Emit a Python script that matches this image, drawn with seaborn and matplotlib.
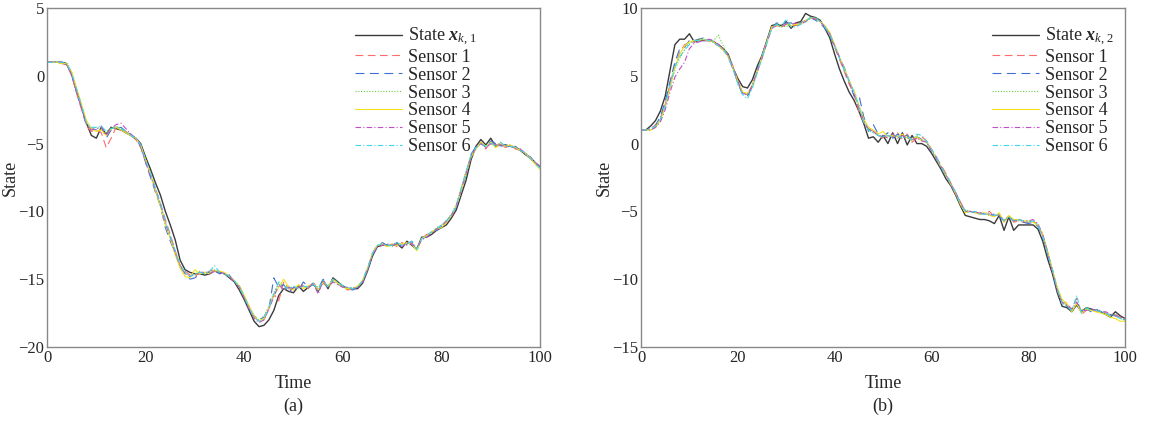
import numpy as np
import pandas as pd
import matplotlib
matplotlib.use("Agg")
import matplotlib.pyplot as plt
import seaborn as sns

time = np.arange(0, 101)

state_x1 = [
    1.0, 1.0, 1.0, 1.0, 0.9, 0.1, -1.2, -2.3, -3.5, -4.4,
    -4.6, -3.8, -4.3, -3.8, -3.9, -4.0, -4.2, -4.4, -4.6, -5.0,
    -6.0, -6.9, -7.9, -8.8, -10.0, -11.0, -12.1, -13.6, -14.3, -14.5,
    -14.6, -14.6, -14.7, -14.6, -14.4, -14.5, -14.6, -14.9, -15.2, -15.8,
    -16.5, -17.3, -18.1, -18.5, -18.4, -18.0, -17.3, -16.2, -15.7, -15.9,
    -16.0, -15.5, -15.9, -15.6, -15.3, -15.9, -15.1, -15.7, -14.9, -15.2,
    -15.5, -15.7, -15.7, -15.7, -15.3, -14.4, -13.3, -12.6, -12.5, -12.5,
    -12.5, -12.4, -12.7, -12.2, -12.5, -12.8, -11.9, -11.9, -11.7, -11.4,
    -11.2, -11.0, -10.5, -9.9, -8.8, -7.7, -6.2, -5.2, -4.7, -5.1,
    -4.6, -5.2, -5.1, -5.1, -5.2, -5.3, -5.5, -5.8, -6.0, -6.4, -6.7,
]
sensor1_x1 = [
    1.0, 1.0, 1.0, 0.9, 0.8, 0.0, -1.3, -2.5, -3.7, -4.1,
    -4.0, -4.2, -5.3, -4.6, -3.8, -3.9, -4.1, -4.4, -4.7, -5.3,
    -6.3, -7.3, -8.3, -9.4, -10.6, -11.7, -12.9, -14.0, -14.4, -14.7,
    -14.8, -14.5, -14.6, -14.4, -14.3, -14.6, -14.5, -14.8, -15.1, -15.6,
    -16.3, -17.0, -17.8, -18.1, -18.0, -17.2, -16.1, -16.6, -15.2, -15.7,
    -15.8, -15.6, -15.4, -15.7, -15.2, -15.8, -15.3, -15.6, -15.0, -15.3,
    -15.6, -15.8, -15.7, -15.6, -15.1, -14.2, -13.1, -12.5, -12.4, -12.6,
    -12.4, -12.6, -12.3, -12.5, -12.3, -12.9, -12.0, -11.7, -11.6, -11.3,
    -11.1, -10.8, -10.4, -9.6, -8.4, -7.1, -5.9, -5.3, -5.0, -5.4,
    -4.9, -5.1, -5.0, -5.3, -5.1, -5.4, -5.5, -5.7, -6.1, -6.4, -6.8,
]
sensor2_x1 = [
    1.0, 1.0, 1.0, 1.0, 0.8, 0.1, -1.1, -2.3, -3.6, -3.9,
    -4.0, -3.7, -4.6, -4.0, -3.9, -3.8, -4.1, -4.3, -4.7, -5.2,
    -6.4, -7.5, -8.6, -9.6, -11.2, -12.2, -13.1, -14.0, -14.6, -15.0,
    -14.9, -14.6, -14.5, -14.5, -14.4, -14.6, -14.5, -14.7, -15.2, -15.5,
    -16.2, -17.1, -17.7, -18.0, -17.8, -17.2, -14.9, -15.6, -15.4, -16.0,
    -15.6, -15.8, -15.2, -15.6, -15.4, -15.7, -15.0, -15.5, -15.1, -15.4,
    -15.5, -15.7, -15.8, -15.6, -15.2, -14.3, -13.2, -12.6, -12.3, -12.5,
    -12.5, -12.3, -12.6, -12.4, -12.2, -12.8, -12.1, -11.8, -11.5, -11.4,
    -11.1, -10.7, -10.3, -9.7, -8.5, -7.3, -5.8, -5.2, -4.9, -5.3,
    -4.8, -5.0, -5.2, -5.1, -5.3, -5.2, -5.5, -5.8, -6.1, -6.5, -6.8,
]
sensor3_x1 = [
    1.0, 1.0, 1.0, 0.9, 0.9, 0.2, -1.0, -2.2, -3.5, -3.9,
    -3.8, -3.9, -4.2, -3.9, -3.7, -3.9, -4.2, -4.4, -4.6, -5.2,
    -6.2, -7.2, -8.4, -9.5, -10.8, -11.9, -13.0, -14.1, -14.5, -14.8,
    -14.7, -14.4, -14.6, -14.5, -14.3, -14.5, -14.6, -14.8, -15.1, -15.6,
    -16.3, -17.1, -17.8, -18.0, -17.7, -17.0, -16.0, -15.3, -15.8, -15.5,
    -15.7, -15.5, -15.6, -15.5, -15.4, -15.6, -15.2, -15.6, -15.1, -15.3,
    -15.5, -15.7, -15.6, -15.6, -15.2, -14.3, -13.0, -12.5, -12.4, -12.5,
    -12.6, -12.4, -12.5, -12.3, -12.4, -12.7, -12.0, -11.8, -11.6, -11.2,
    -11.0, -10.7, -10.2, -9.5, -8.3, -7.0, -5.9, -5.4, -4.9, -5.2,
    -5.0, -5.2, -5.0, -5.2, -5.1, -5.3, -5.4, -5.8, -6.0, -6.4, -6.8,
]
sensor4_x1 = [
    1.0, 1.0, 1.0, 0.9, 0.9, 0.3, -0.9, -2.1, -3.3, -3.9,
    -4.1, -4.0, -4.4, -3.9, -3.8, -4.0, -4.2, -4.4, -4.6, -5.1,
    -6.2, -7.3, -8.5, -9.6, -11.0, -12.0, -13.2, -14.2, -14.8, -14.9,
    -14.3, -14.6, -14.5, -14.6, -14.4, -14.4, -14.5, -14.8, -15.1, -15.5,
    -16.2, -17.0, -17.7, -18.1, -17.9, -17.1, -16.2, -15.6, -15.0, -15.6,
    -15.8, -15.4, -15.7, -15.5, -15.3, -15.8, -15.2, -15.5, -15.0, -15.3,
    -15.6, -15.7, -15.7, -15.5, -15.1, -14.2, -13.1, -12.5, -12.4, -12.6,
    -12.4, -12.5, -12.4, -12.3, -12.4, -12.9, -12.0, -11.8, -11.5, -11.3,
    -11.2, -10.8, -10.3, -9.6, -8.5, -7.2, -6.0, -5.4, -4.9, -5.2,
    -4.9, -5.3, -5.0, -5.2, -5.1, -5.3, -5.5, -5.7, -6.1, -6.5, -6.9,
]
sensor5_x1 = [
    1.0, 1.0, 1.0, 1.0, 0.8, 0.1, -1.2, -2.4, -3.6, -4.0,
    -3.9, -3.8, -4.4, -3.9, -3.6, -3.5, -3.9, -4.3, -4.6, -5.2,
    -6.4, -7.4, -8.4, -9.5, -10.9, -11.9, -13.1, -14.0, -14.6, -14.8,
    -14.6, -14.5, -14.5, -14.6, -14.4, -14.5, -14.6, -14.8, -15.2, -15.6,
    -16.4, -17.2, -17.9, -18.2, -18.0, -17.2, -16.3, -15.4, -15.8, -15.6,
    -15.7, -15.6, -15.5, -15.6, -15.3, -16.1, -15.1, -15.6, -15.2, -15.4,
    -15.6, -15.6, -15.7, -15.6, -15.2, -14.3, -13.2, -12.6, -12.5, -12.4,
    -12.5, -12.4, -12.6, -12.3, -12.4, -12.7, -12.1, -11.9, -11.6, -11.3,
    -11.1, -10.7, -10.3, -9.6, -8.4, -7.2, -6.0, -5.3, -5.0, -5.3,
    -5.0, -5.1, -5.1, -5.2, -5.2, -5.3, -5.4, -5.7, -6.0, -6.4, -6.7,
]
sensor6_x1 = [
    1.0, 1.0, 1.0, 1.0, 0.9, 0.2, -1.0, -2.2, -3.5, -3.8,
    -3.8, -3.7, -4.1, -3.9, -3.8, -3.9, -4.1, -4.4, -4.6, -5.1,
    -6.2, -7.2, -8.3, -9.4, -10.7, -11.8, -12.9, -14.0, -14.5, -14.8,
    -14.6, -14.5, -14.6, -14.4, -14.0, -14.5, -14.6, -14.8, -15.1, -15.6,
    -16.3, -17.1, -17.8, -18.1, -17.9, -17.1, -16.1, -15.2, -15.5, -15.7,
    -15.5, -15.7, -15.5, -15.6, -15.3, -15.8, -15.1, -15.6, -15.0, -15.2,
    -15.5, -15.6, -15.7, -15.6, -15.1, -14.2, -13.1, -12.5, -12.4, -12.5,
    -12.5, -12.3, -12.5, -12.4, -12.2, -12.8, -12.0, -11.8, -11.5, -11.3,
    -11.0, -10.7, -10.3, -9.6, -8.3, -7.1, -5.8, -5.3, -5.0, -5.2,
    -4.9, -5.2, -4.9, -5.2, -5.2, -5.3, -5.5, -5.7, -6.0, -6.5, -6.8,
]

state_x2 = [
    1.0, 1.0, 1.3, 1.7, 2.4, 3.5, 5.4, 7.3, 7.7, 7.7,
    8.1, 7.5, 7.6, 7.6, 7.6, 7.5, 7.3, 7.0, 6.6, 5.6,
    4.8, 4.2, 4.1, 4.7, 5.7, 6.5, 7.6, 8.7, 8.8, 8.7,
    9.0, 8.5, 8.9, 9.0, 9.6, 9.4, 9.3, 9.1, 8.5, 7.8,
    6.6, 5.5, 4.6, 3.8, 3.2, 2.4, 1.5, 0.4, 0.5, 0.1,
    0.6, 0.0, 0.8, 0.0, 0.8, -0.1, 0.6, 0.0, 0.0, -0.2,
    -0.7, -1.3, -1.9, -2.6, -3.1, -3.8, -4.6, -5.3, -5.4, -5.5,
    -5.6, -5.6, -5.7, -5.9, -5.3, -6.4, -5.4, -6.4, -6.0, -6.0,
    -6.0, -6.0, -6.3, -7.2, -8.5, -9.6, -11.0, -12.0, -12.1, -12.4,
    -11.9, -12.4, -12.1, -12.2, -12.3, -12.4, -12.6, -12.8, -12.4, -12.7, -12.9,
]
sensor1_x2 = [
    1.0, 1.0, 1.1, 1.4, 1.9, 2.9, 4.4, 5.8, 6.7, 7.3,
    7.4, 7.5, 7.7, 7.6, 7.6, 7.4, 7.2, 7.0, 6.5, 5.7,
    4.6, 3.7, 3.6, 4.3, 5.3, 6.4, 7.5, 8.6, 8.7, 8.6,
    8.9, 8.8, 8.7, 8.8, 9.0, 9.3, 9.2, 9.0, 8.6, 8.0,
    7.1, 6.2, 5.3, 4.4, 3.6, 2.4, 1.6, 1.1, 0.9, 0.6,
    0.4, 0.6, 0.5, 0.8, 0.3, 0.7, 0.1, 0.4, 0.5, 0.2,
    -0.4, -1.0, -1.6, -2.2, -2.9, -3.6, -4.3, -5.0, -5.0, -5.1,
    -5.1, -5.2, -5.0, -5.4, -5.2, -5.8, -5.3, -5.8, -5.7, -5.8,
    -5.8, -5.7, -6.0, -6.8, -8.0, -9.4, -10.8, -11.8, -11.7, -12.3,
    -11.4, -12.6, -12.3, -12.2, -12.4, -12.3, -12.5, -12.7, -12.6, -12.8, -12.9,
]
sensor2_x2 = [
    1.0, 1.0, 1.1, 1.3, 2.0, 3.1, 4.6, 6.0, 7.0, 7.1,
    7.6, 7.6, 7.7, 7.8, 7.7, 7.5, 7.2, 6.9, 6.4, 5.5,
    4.5, 3.6, 3.5, 4.2, 5.4, 6.5, 7.6, 8.5, 8.9, 8.8,
    8.9, 8.9, 8.7, 8.9, 9.1, 9.3, 9.1, 8.9, 8.5, 8.0,
    7.2, 6.3, 5.6, 4.6, 3.5, 3.6, 2.0, 0.9, 1.4, 0.7,
    0.5, 0.8, 0.4, 0.7, 0.5, 0.6, 0.2, 0.5, 0.3, 0.1,
    -0.5, -1.0, -1.7, -2.3, -3.0, -3.6, -4.4, -5.0, -5.1, -5.0,
    -5.2, -5.1, -5.3, -5.2, -5.4, -5.7, -5.4, -5.7, -5.6, -5.8,
    -5.9, -5.8, -6.1, -6.9, -8.2, -9.3, -10.9, -11.6, -12.0, -12.2,
    -11.7, -12.4, -12.2, -12.4, -12.2, -12.4, -12.6, -12.6, -12.7, -12.9, -13.0,
]
sensor3_x2 = [
    1.0, 1.0, 1.0, 1.2, 1.8, 2.8, 4.2, 5.4, 6.3, 6.9,
    7.4, 7.6, 7.7, 7.7, 7.6, 7.6, 8.0, 7.2, 6.5, 5.6,
    4.5, 3.8, 3.6, 4.3, 5.3, 6.3, 7.4, 8.5, 8.8, 8.7,
    8.6, 8.9, 8.8, 8.9, 9.0, 9.2, 9.3, 9.0, 8.6, 8.1,
    7.3, 6.4, 5.6, 4.7, 3.9, 2.9, 1.8, 1.1, 0.8, 0.6,
    0.5, 0.5, 0.7, 0.4, 0.6, 0.5, 0.2, 0.6, 0.3, 0.1,
    -0.5, -1.1, -1.8, -2.4, -3.0, -3.7, -4.4, -4.9, -5.0, -5.1,
    -5.2, -5.1, -5.2, -5.3, -5.3, -5.6, -5.4, -5.7, -5.7, -5.7,
    -5.8, -5.7, -6.1, -6.8, -8.1, -9.3, -10.7, -11.7, -11.9, -12.3,
    -11.8, -12.3, -12.1, -12.3, -12.3, -12.4, -12.5, -12.6, -12.6, -12.9, -13.0,
]
sensor4_x2 = [
    1.0, 1.0, 1.0, 1.2, 1.7, 2.7, 4.1, 5.6, 6.6, 7.2,
    7.5, 7.6, 7.6, 7.7, 7.6, 7.5, 7.2, 6.9, 6.4, 5.6,
    4.6, 3.8, 3.7, 4.3, 5.3, 6.4, 7.5, 8.6, 8.7, 8.6,
    8.8, 8.7, 8.8, 8.8, 9.1, 9.3, 9.2, 9.0, 8.7, 8.2,
    7.3, 6.4, 5.5, 4.6, 3.9, 2.8, 1.8, 1.2, 1.0, 0.7,
    0.9, 0.5, 0.6, 0.5, 0.7, 0.4, 0.3, 0.5, 0.2, 0.1,
    -0.4, -1.1, -1.7, -2.3, -3.0, -3.7, -4.5, -5.1, -5.0, -5.1,
    -5.2, -5.1, -5.3, -5.4, -5.1, -5.8, -5.3, -5.6, -5.6, -5.7,
    -5.7, -5.8, -6.0, -6.7, -7.9, -9.3, -10.6, -11.5, -11.8, -12.4,
    -11.8, -12.5, -12.2, -12.3, -12.4, -12.5, -12.6, -12.8, -12.9, -13.1, -13.1,
]
sensor5_x2 = [
    1.0, 1.0, 1.0, 1.2, 1.6, 2.5, 3.8, 4.9, 5.5, 6.0,
    7.0, 7.4, 7.5, 7.6, 7.7, 7.6, 7.3, 7.0, 6.5, 5.6,
    4.6, 3.7, 3.6, 4.3, 5.3, 6.3, 7.4, 8.5, 8.7, 8.6,
    8.8, 8.8, 8.9, 8.8, 9.0, 9.3, 9.2, 9.0, 8.6, 8.1,
    7.2, 6.4, 5.4, 4.5, 3.7, 2.6, 1.7, 1.0, 0.9, 0.6,
    0.6, 0.4, 0.7, 0.4, 0.6, 0.4, 0.3, 0.4, 0.2, 0.1,
    -0.5, -1.1, -1.7, -2.3, -3.0, -3.7, -4.4, -5.0, -5.0, -5.1,
    -5.1, -5.2, -5.2, -5.3, -5.3, -5.7, -5.4, -5.7, -5.6, -5.7,
    -5.7, -5.6, -5.9, -6.7, -8.0, -9.4, -10.8, -11.7, -11.9, -12.2,
    -11.7, -12.3, -12.3, -12.2, -12.3, -12.4, -12.4, -12.6, -12.7, -12.8, -12.9,
]
sensor6_x2 = [
    1.0, 1.0, 1.1, 1.3, 1.8, 2.8, 4.3, 5.7, 6.4, 6.9,
    7.3, 7.6, 7.6, 7.7, 7.6, 7.5, 7.2, 7.0, 6.4, 5.5,
    4.4, 3.6, 3.3, 4.1, 5.2, 6.3, 7.4, 8.5, 8.8, 8.6,
    9.2, 8.6, 8.6, 8.8, 9.0, 9.3, 9.3, 9.0, 8.6, 8.1,
    7.2, 6.3, 5.4, 4.6, 3.8, 2.7, 1.6, 1.0, 0.8, 0.6,
    0.5, 0.6, 0.5, 0.6, 0.4, 0.5, 0.3, 0.7, 0.6, 0.2,
    -0.4, -1.0, -1.7, -2.3, -2.9, -3.6, -4.4, -5.0, -5.1, -5.0,
    -5.2, -5.2, -5.2, -5.3, -5.2, -5.7, -5.4, -5.7, -5.6, -5.7,
    -5.8, -5.7, -6.0, -6.8, -8.1, -9.3, -10.7, -11.8, -12.0, -12.3,
    -11.2, -12.5, -12.1, -12.3, -12.3, -12.4, -12.5, -12.7, -12.7, -12.9, -13.0,
]

sensor_names = ["Sensor 1", "Sensor 2", "Sensor 3", "Sensor 4", "Sensor 5", "Sensor 6"]
sensor_colors = ["#ff6b6b", "#3f6fd0", "#6ccc4a", "#f2e21a", "#c050c8", "#3fd6e6"]
sensor_dashes = [(0, (7, 4)), (0, (8, 5)), (0, (1, 1.5)), "-", (0, (5, 2, 1, 2)), (0, (5, 2, 1, 2))]

panels = [
    ("a", state_x1, [sensor1_x1, sensor2_x1, sensor3_x1, sensor4_x1, sensor5_x1, sensor6_x1],
     r"State $\mathbf{x}_{k,\,1}$", (-20, 5), [-20, -15, -10, -5, 0, 5], 0.60),
    ("b", state_x2, [sensor1_x2, sensor2_x2, sensor3_x2, sensor4_x2, sensor5_x2, sensor6_x2],
     r"State $\mathbf{x}_{k,\,2}$", (-15, 10), [-15, -10, -5, 0, 5, 10], 0.70),
]

sns.set_style("white")
plt.rcParams["font.family"] = ["Liberation Serif", "DejaVu Serif"]
plt.rcParams["mathtext.fontset"] = "custom"
plt.rcParams["mathtext.rm"] = "Liberation Serif"
plt.rcParams["mathtext.it"] = "Liberation Serif:italic"
plt.rcParams["mathtext.bf"] = "Liberation Serif:bold:italic"

fig = plt.figure(figsize=(11.5, 4.23), dpi=100)
axes_pos = [[0.0409, 0.1797, 0.4287, 0.8014], [0.5574, 0.1797, 0.4209, 0.8014]]

for pos, (tag, state, sensors, state_label, ylim, yticks, leg_x) in zip(axes_pos, panels):
    ax = fig.add_axes(pos)
    df = pd.DataFrame({"Time": time, "State": state})
    sns.lineplot(data=df, x="Time", y="State", ax=ax, color="#3a3a3a", linewidth=1.0, legend=False)
    for vals, col, ls in zip(sensors, sensor_colors, sensor_dashes):
        sns.lineplot(x=time, y=vals, ax=ax, color=col, linewidth=0.8, linestyle=ls, legend=False)

    ax.set_xlim(0, 100)
    ax.set_ylim(*ylim)
    ax.set_xticks([0, 20, 40, 60, 80, 100])
    ax.set_yticks(yticks)
    ax.tick_params(direction="in", length=4, width=0.8, color="#777777", labelsize=12,
                   top=False, right=False, pad=2)
    for sp in ax.spines.values():
        sp.set_color("#888888")
        sp.set_linewidth(1.0)
    ax.set_xlabel("Time", fontsize=13, labelpad=7)
    ax.set_ylabel("State", fontsize=13)
    ax.yaxis.set_label_coords(-0.058, 0.5)

    ax.legend(handles=ax.get_lines()[:7], labels=[state_label] + sensor_names,
              loc="upper left", bbox_to_anchor=(leg_x, 0.985), frameon=False, fontsize=13,
              handlelength=2.6, handletextpad=0.3, labelspacing=0.05, borderpad=0.2)

    fig.text(pos[0] + pos[2] / 2, 0.04, f"({tag})", ha="center", va="center", fontsize=13)

fig.savefig("out.png", dpi=100)
